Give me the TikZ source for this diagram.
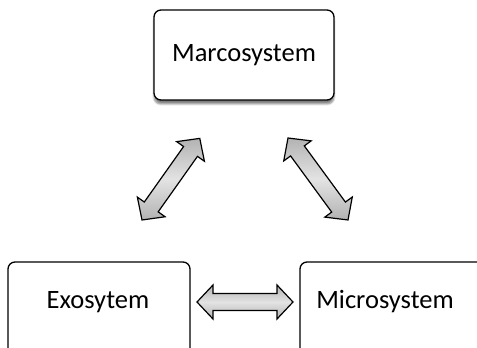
\documentclass[tikz,border=0pt]{standalone}
\usepackage{fontspec}
\setmainfont{Carlito}
\usetikzlibrary{shadows.blur}
\tikzset{
  sysbox/.style={draw=black, line width=1.3pt, rounded corners=7pt, fill=white},
  boxlabel/.style={font=\fontsize{26.5}{30}\selectfont, inner sep=0pt},
  grayarrow/.style={draw=black, line width=1.2pt, line join=miter,
    top color=gray!60, bottom color=gray!60, middle color=gray!22}
}
\newcommand{\dblarrowpath}[1]{% length
  (0,0) -- (16,17) -- (16,8.5) -- (#1-16,8.5) -- (#1-16,17) -- (#1,0)
  -- (#1-16,-17) -- (#1-16,-8.5) -- (16,-8.5) -- (16,-17) -- cycle}
\begin{document}
\begin{tikzpicture}[x=1pt,y=1pt]
\useasboundingbox (0,0) rectangle (477,348);
\clip (0,0) rectangle (477,348);
% boxes
\draw[sysbox, blur shadow={shadow xshift=0pt, shadow yshift=-4pt, shadow blur steps=6, shadow opacity=50}]
  (154,248) rectangle (334,338);
\node[boxlabel] (macro) at (244,293) {Marcosystem};
\draw[sysbox] (8,-30) rectangle (190,86);
\node[boxlabel] (exo) at (98,46) {Exosytem};
\draw[sysbox] (300,-30) rectangle (490,86);
\node[boxlabel] (micro) at (385,46) {Microsystem};
% arrow end points
\coordinate (l1) at (142,128); \coordinate (l2) at (200,210);
\coordinate (r1) at (288,210); \coordinate (r2) at (348,128);
\coordinate (h1) at (197,46);  \coordinate (h2) at (293,46);
% arrows
\begin{scope}[shift={(l1)}, rotate=54.7]
  \path[grayarrow] \dblarrowpath{100};
\end{scope}
\begin{scope}[shift={(r1)}, rotate=-53.8]
  \path[grayarrow] \dblarrowpath{101.6};
\end{scope}
\begin{scope}[shift={(h1)}]
  \path[grayarrow] \dblarrowpath{96};
\end{scope}
\end{tikzpicture}
\end{document}
